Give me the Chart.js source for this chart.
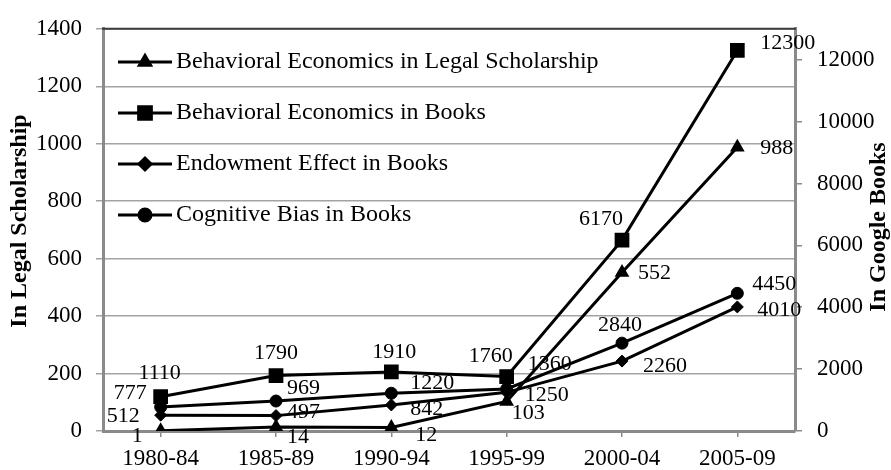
<!DOCTYPE html>
<html>
<head>
<meta charset="utf-8">
<script src="https://cdn.jsdelivr.net/npm/chart.js@4/dist/chart.umd.min.js"></script>
<style>
  body { margin: 0; background: #fff; }
  canvas { display: block; }
</style>
</head>
<body>
<canvas id="chart" width="891" height="470"></canvas>
<script>
const periods = ["1980-84", "1985-89", "1990-94", "1995-99", "2000-04", "2005-09"];
const legalScholarship = [1, 14, 12, 103, 552, 988];
const behavioralBooks = [1110, 1790, 1910, 1760, 6170, 12300];
const endowmentBooks = [512, 497, 842, 1250, 2260, 4010];
const cognitiveBooks = [777, 969, 1220, 1360, 2840, 4450];

// where each value label sits relative to its point: [dx, dy, align]
const labelSpots = [
  [[-18, 6, "right"], [11, 10, "left"], [24, 8, "left"], [5, 12, "left"], [16, 1, "left"], [23, 1, "left"]],
  [[-1, -23, "center"], [0, -22, "center"], [3, -20, "center"], [6, -20, "right"], [1, -21, "right"], [23, -7, "left"]],
  [[-21, 1, "right"], [11, -3, "left"], [19, 4, "left"], [18, 3, "left"], [21, 5, "left"], [20, 3, "left"]],
  [[-14, -14, "right"], [11, -13, "left"], [19, -10, "left"], [21, -25, "left"], [-2, -18, "center"], [15, -9, "left"]],
];

const serif = "'Liberation Serif', 'Times New Roman', serif";
Chart.defaults.font.family = serif;
Chart.defaults.color = "#000";

function series(label, data, axis, style, radius, border) {
  return {
    label: label,
    data: data,
    yAxisID: axis,
    borderColor: "#000",
    backgroundColor: "#000",
    borderWidth: 3,
    tension: 0,
    pointStyle: style,
    pointRadius: radius,
    pointBorderWidth: border,
    pointBackgroundColor: "#000",
    pointBorderColor: "#000",
  };
}

const valueLabels = {
  id: "valueLabels",
  beforeDatasetsDraw(chart) {
    const ctx = chart.ctx;
    ctx.save();
    ctx.font = "22px " + serif;
    ctx.fillStyle = "#000";
    ctx.textBaseline = "middle";
    chart.data.datasets.forEach((ds, i) => {
      chart.getDatasetMeta(i).data.forEach((pt, j) => {
        const spot = labelSpots[i][j];
        ctx.textAlign = spot[2];
        ctx.fillText(String(ds.data[j]), pt.x + spot[0], pt.y + spot[1]);
      });
    });
    ctx.restore();
  },
};

const frameAndLegend = {
  id: "frameAndLegend",
  afterDraw(chart) {
    const ctx = chart.ctx;
    const area = chart.chartArea;
    ctx.save();
    // dark top edge of plot area
    ctx.strokeStyle = "#3a3a3a";
    ctx.lineWidth = 2;
    ctx.beginPath();
    ctx.moveTo(area.left - 1, area.top);
    ctx.lineTo(area.right + 1, area.top);
    ctx.stroke();

    // legend inside the plot
    ctx.font = "24px " + serif;
    ctx.textBaseline = "middle";
    ctx.textAlign = "left";
    chart.data.datasets.forEach((ds, i) => {
      const y = 62 + i * 51;
      ctx.strokeStyle = "#000";
      ctx.fillStyle = "#000";
      ctx.lineWidth = 3;
      ctx.beginPath();
      ctx.moveTo(118, y);
      ctx.lineTo(172, y);
      ctx.stroke();
      Chart.helpers.drawPoint(ctx, {
        pointStyle: ds.pointStyle,
        radius: ds.pointRadius,
        borderWidth: ds.pointBorderWidth,
        rotation: 0,
      }, 145, y);
      ctx.fillText(ds.label, 176, y);
    });

    // axis titles
    ctx.font = "bold 24px " + serif;
    ctx.textAlign = "center";
    ctx.translate(20, 221);
    ctx.rotate(-Math.PI / 2);
    ctx.fillText("In Legal Scholarship", 0, 0);
    ctx.setTransform(1, 0, 0, 1, 0, 0);
    ctx.translate(879, 227);
    ctx.rotate(-Math.PI / 2);
    ctx.fillText("In Google Books", 0, 0);
    ctx.restore();
  },
};

const gridGray = "#a3a3a3";
const axisGray = "#8a8a8a";

new Chart(document.getElementById("chart"), {
  type: "line",
  data: {
    labels: periods,
    datasets: [
      series("Behavioral Economics in Legal Scholarship", legalScholarship, "y", "triangle", 6.5, 2),
      series("Behavioral Economics in Books", behavioralBooks, "y1", "rect", 9, 2),
      series("Endowment Effect in Books", endowmentBooks, "y1", "rectRot", 6, 1),
      series("Cognitive Bias in Books", cognitiveBooks, "y1", "circle", 6, 1),
    ],
  },
  options: {
    responsive: false,
    animation: false,
    layout: { padding: { top: 22, left: 0, right: 0, bottom: 0 } },
    plugins: {
      legend: { display: false },
      tooltip: { enabled: false },
    },
    scales: {
      x: {
        offset: true,
        grid: { offset: false, drawOnChartArea: false, color: axisGray, lineWidth: 1.5, tickLength: 6 },
        border: { color: axisGray, width: 3 },
        ticks: { font: { size: 23 }, padding: 8, maxRotation: 0, autoSkip: false },
        afterFit(scale) { scale.height = 39; },
      },
      y: {
        position: "left",
        min: 0,
        max: 1400,
        grid: { color: gridGray, lineWidth: 1.5, tickLength: 7 },
        border: { color: axisGray, width: 3 },
        ticks: { stepSize: 200, font: { size: 23 }, padding: 14, callback: v => String(v) },
        afterFit(scale) { scale.width = 103; },
      },
      y1: {
        position: "right",
        min: 0,
        max: 13000,
        grid: {
          drawOnChartArea: false,
          color: axisGray,
          tickColor: c => (c.tick && c.tick.value % 2000 === 0 ? axisGray : "rgba(0,0,0,0)"),
          lineWidth: 1.5,
          tickLength: 7,
        },
        border: { color: axisGray, width: 3 },
        ticks: {
          stepSize: 1000,
          autoSkip: false,
          font: { size: 23 },
          padding: 15,
          callback: v => (v % 2000 === 0 ? String(v) : ""),
        },
        afterFit(scale) { scale.width = 96; },
      },
    },
  },
  plugins: [valueLabels, frameAndLegend],
});
</script>
</body>
</html>
